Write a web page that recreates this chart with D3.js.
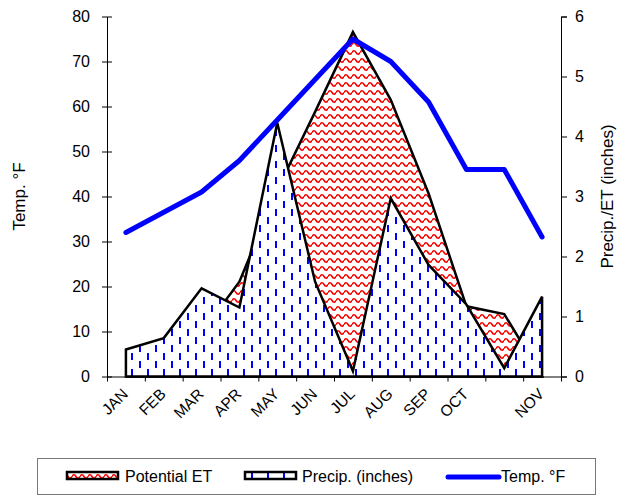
<!DOCTYPE html>
<html>
<head>
<meta charset="utf-8">
<script src="https://cdn.jsdelivr.net/npm/d3@7"></script>
<style>
  body { margin: 0; background: #fff; }
  svg { font-family: "Liberation Sans", Arial, sans-serif; }
  .axis path, .axis line { stroke: #000; }
  .axis text { fill: #000; }
</style>
</head>
<body>
<div id="chart"></div>
<script>
let w = 617;
let h = 496;

// chart values
let months = ["JAN", "FEB", "MAR", "APR", "MAY", "JUN", "JUL", "AUG", "SEP", "OCT", "", "NOV"];
let tempF = [32, 36.5, 41, 48, 57, 66, 75, 70, 61, 46, 46, 31];
let precipIn = [0.45, 0.64, 1.47, 1.15, 4.23, 1.58, 0.09, 2.97, 1.86, 1.2, 0.14, 1.33];
let etIn = [0, 0.15, 0.73, 1.58, 3.11, 4.41, 5.74, 4.61, 3.05, 1.17, 1.04, 0];
let leftTicks = [0, 10, 20, 30, 40, 50, 60, 70, 80];
let rightTicks = [0, 1, 2, 3, 4, 5, 6];

let x = d3.scaleLinear()
    .domain([0, months.length])
    .range([107, 561]);

let yL = d3.scaleLinear()
    .domain([0, 80])
    .range([376.5, 16.5]);

let yR = d3.scaleLinear()
    .domain([0, 6])
    .range([376.5, 16.5]);

let cx = (i) => x(i + 0.5);

let svg = d3.select("#chart")
    .append("svg")
    .attr("width", w)
    .attr("height", h);

// fill patterns
let defs = svg.append("defs");

let etPat = defs.append("pattern")
    .attr("id", "etPat")
    .attr("patternUnits", "userSpaceOnUse")
    .attr("width", 8)
    .attr("height", 8);
etPat.append("rect").attr("width", 8).attr("height", 8).attr("fill", "#fff");
etPat.append("path")
    .attr("d", "M0,4.5 Q2,1 4,4.5 T8,4.5")
    .attr("fill", "none")
    .attr("stroke", "#ff0000")
    .attr("stroke-width", 1.6);

let prPat = defs.append("pattern")
    .attr("id", "prPat")
    .attr("patternUnits", "userSpaceOnUse")
    .attr("width", 16)
    .attr("height", 16);
prPat.append("rect").attr("width", 16).attr("height", 16).attr("fill", "#fff");
prPat.append("rect").attr("x", 3).attr("y", 1).attr("width", 2).attr("height", 7).attr("fill", "#0000ff");
prPat.append("rect").attr("x", 11).attr("y", 9).attr("width", 2).attr("height", 7).attr("fill", "#0000ff");

// axes
let xAxis = d3.axisBottom(x)
    .tickValues(d3.range(months.length + 1))
    .tickFormat("")
    .tickSizeInner(5)
    .tickSizeOuter(0);

let gx = svg.append("g")
    .attr("class", "axis")
    .attr("transform", "translate(0," + yL(0) + ")")
    .call(xAxis);
gx.selectAll(".tick line").attr("y1", -4);

let gyL = svg.append("g")
    .attr("class", "axis")
    .attr("transform", "translate(" + x(0) + ",0)")
    .call(d3.axisLeft(yL).tickValues(leftTicks).tickSizeOuter(0).tickSizeInner(5).tickPadding(12));
gyL.selectAll(".tick line").attr("x2", 5).attr("x1", -5);
gyL.selectAll("text").attr("font-size", 16).attr("font-family", "Liberation Sans, Arial, sans-serif");

let gyR = svg.append("g")
    .attr("class", "axis")
    .attr("transform", "translate(" + x(months.length) + ",0)")
    .call(d3.axisRight(yR).tickValues(rightTicks).tickFormat(d3.format("d"))
        .tickSizeOuter(0).tickSize(6).tickPadding(8));
gyR.selectAll("text").attr("font-size", 16).attr("font-family", "Liberation Sans, Arial, sans-serif");

svg.append("g")
    .selectAll("text")
    .data(months)
    .enter()
    .append("text")
    .attr("transform", (d, i) => "translate(" + (cx(i) + 3) + ",395) rotate(-45)")
    .attr("text-anchor", "end")
    .attr("font-size", 15.5)
    .text((d) => d);

// axis titles
svg.append("text")
    .attr("transform", "translate(25," + yL(40) + ") rotate(-90)")
    .attr("text-anchor", "middle")
    .attr("font-size", 17)
    .text("Temp. °F");

svg.append("text")
    .attr("transform", "translate(613," + yL(40) + ") rotate(-90)")
    .attr("text-anchor", "middle")
    .attr("font-size", 17)
    .text("Precip./ET (inches)");

// series
let area = d3.area()
    .x((d, i) => cx(i))
    .y0(yR(0))
    .y1((d) => yR(d));

svg.append("path")
    .datum(etIn)
    .attr("d", area)
    .attr("fill", "url(#etPat)")
    .attr("stroke", "#000")
    .attr("stroke-width", 2.5)
    .attr("stroke-linejoin", "miter");

svg.append("path")
    .datum(precipIn)
    .attr("d", area)
    .attr("fill", "url(#prPat)")
    .attr("stroke", "#000")
    .attr("stroke-width", 2.5)
    .attr("stroke-linejoin", "miter");

let line = d3.line()
    .x((d, i) => cx(i))
    .y((d) => yL(d));

svg.append("path")
    .datum(tempF)
    .attr("d", line)
    .attr("fill", "none")
    .attr("stroke", "#0000ff")
    .attr("stroke-width", 5)
    .attr("stroke-linejoin", "round")
    .attr("stroke-linecap", "round");

// legend
let lg = svg.append("g");
lg.append("rect")
    .attr("x", 37.5)
    .attr("y", 458.5)
    .attr("width", 558)
    .attr("height", 36)
    .attr("fill", "#fff")
    .attr("stroke", "#777");

lg.append("rect")
    .attr("x", 67).attr("y", 472).attr("width", 51).attr("height", 7)
    .attr("fill", "url(#etPat)").attr("stroke", "#000").attr("stroke-width", 2.5);
lg.append("text").attr("x", 125).attr("y", 482).attr("font-size", 16).text("Potential ET");

lg.append("rect")
    .attr("x", 245).attr("y", 472).attr("width", 51).attr("height", 7)
    .attr("fill", "url(#prPat)").attr("stroke", "#000").attr("stroke-width", 2.5);
lg.append("text").attr("x", 302).attr("y", 482).attr("font-size", 16).text("Precip. (inches)");

lg.append("line")
    .attr("x1", 448).attr("x2", 499).attr("y1", 477).attr("y2", 477)
    .attr("stroke", "#0000ff").attr("stroke-width", 5).attr("stroke-linecap", "round");
lg.append("text").attr("x", 501).attr("y", 482).attr("font-size", 16).text("Temp. °F");
</script>
</body>
</html>
